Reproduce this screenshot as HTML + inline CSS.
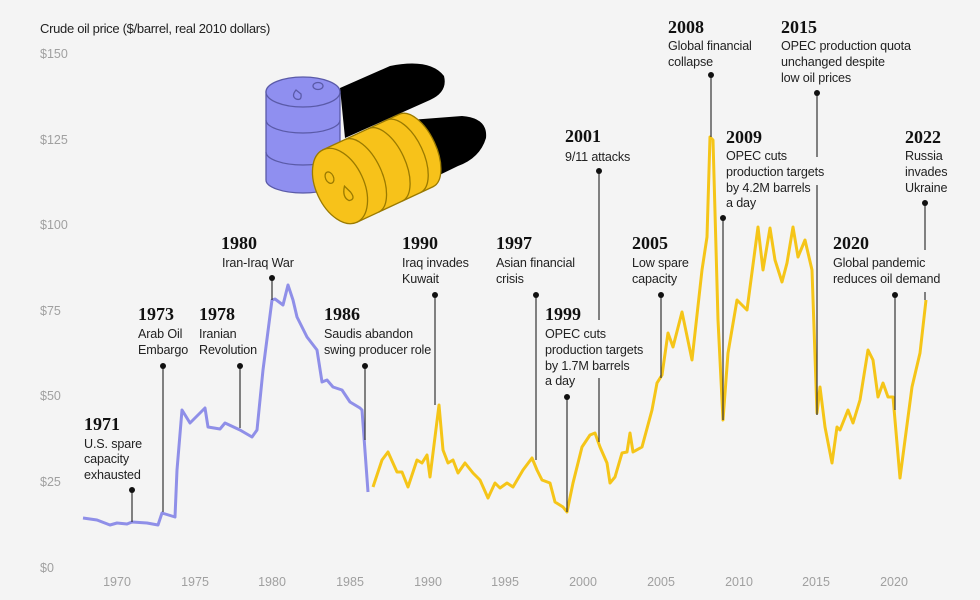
<!DOCTYPE html>
<html><head><meta charset="utf-8"><style>
html,body{margin:0;padding:0;background:#f4f4f4;}
svg{display:block;}
.yr{font-family:"Liberation Serif",serif;font-weight:bold;font-size:18px;fill:#111;}
.d{font-family:"Liberation Sans Narrow","Liberation Sans",sans-serif;font-size:12.6px;letter-spacing:-0.15px;fill:#222;}
.ax{font-family:"Liberation Sans Narrow","Liberation Sans",sans-serif;font-size:12.5px;fill:#a0a0a0;}
.ln{stroke:#333;stroke-width:1.2;fill:none;}
</style></head><body>
<svg width="980" height="600" viewBox="0 0 980 600" xmlns="http://www.w3.org/2000/svg">
<rect width="980" height="600" fill="#f4f4f4"/>
<text x="40" y="33" class="d" style="font-size:13px;letter-spacing:-0.3px">Crude oil price ($/barrel, real 2010 dollars)</text>
<g class="ax">
<text x="40" y="58">$150</text><text x="40" y="144">$125</text><text x="40" y="229">$100</text>
<text x="40" y="315">$75</text><text x="40" y="400">$50</text><text x="40" y="486">$25</text><text x="40" y="572">$0</text>
</g>
<g class="ax" text-anchor="middle">
<text x="117" y="586">1970</text><text x="195" y="586">1975</text><text x="272" y="586">1980</text>
<text x="350" y="586">1985</text><text x="428" y="586">1990</text><text x="505" y="586">1995</text>
<text x="583" y="586">2000</text><text x="661" y="586">2005</text><text x="739" y="586">2010</text>
<text x="816" y="586">2015</text><text x="894" y="586">2020</text>
</g>

<!-- barrels -->
<path d="M340,88 L390,66 Q430,58 444,76 Q448,92 430,100 L345,138 Z" fill="#000"/>
<path d="M410,120 L462,116 Q488,118 486,138 Q480,158 458,166 L425,182 Z" fill="#000"/>
<g stroke="#5a5aa8" stroke-width="1.3" fill="#8f8ff0">
<path d="M266,92 L266,180 A37,13 0 0 0 340,180 L340,92 Z"/>
<path d="M266,120 A37,13 0 0 0 340,120" fill="none"/>
<path d="M266,152 A37,13 0 0 0 340,152" fill="none"/>
<ellipse cx="303" cy="92" rx="37" ry="15"/>
<path d="M296,90 q-5,6 0,9 q6,2 5,-5 z" fill="none"/>
<ellipse cx="318" cy="86" rx="5" ry="3.5" fill="none"/>
</g>
<g transform="translate(340,186) rotate(-25)" stroke="#9a7a00" stroke-width="1.3" fill="#f7c21a">
<path d="M0,-40 L84,-40 A20,40 0 0 1 84,40 L0,40 Z"/>
<path d="M24,-40 A20,40 0 0 1 24,40" fill="none"/>
<path d="M50,-40 A20,40 0 0 1 50,40" fill="none"/>
<path d="M70,-40 A20,40 0 0 1 70,40" fill="none"/>
<ellipse cx="0" cy="0" rx="24" ry="40"/>
<ellipse cx="-6" cy="-12" rx="4" ry="6" fill="none"/>
<path d="M4,2 q-7,9 -2,15 q7,2 5,-7 z" fill="none"/>
</g>

<!-- price series -->
<polyline fill="none" stroke="#8f8fe8" stroke-width="3" stroke-linejoin="round" points="83,518 97,520 110,525 117,523 127,524 132,522 147,523 158,525 162,513 175,517 177,470 182,410 190,423 205,408 208,427 220,429 225,423 240,430 252,437 257,430 263,370 272,300 275,299 283,305 288,285 293,300 297,317 307,337 317,350 322,382 327,380 333,387 342,390 350,402 360,408 362,410 368,492"/>
<polyline fill="none" stroke="#f5c518" stroke-width="3" stroke-linejoin="round" points="373,487 382,460 388,452 397,472 402,472 408,487 417,460 422,463 427,455 430,477 435,437 439,405 443,450 448,463 453,460 458,473 465,463 473,473 480,480 488,498 495,483 500,488 507,483 513,487 523,470 532,458 537,470 542,480 550,483 555,502 563,507 567,512 573,483 582,447 590,435 595,433 600,447 607,463 610,483 615,477 622,453 627,452 630,433 633,452 642,447 652,410 657,383 662,375 668,333 673,347 682,312 692,360 702,270 707,237 710,137 713,140 718,320 723,420 728,353 737,300 747,310 758,227 763,270 770,228 775,260 782,282 787,263 793,227 798,257 805,240 812,270 817,413 820,387 825,427 832,463 837,427 840,430 848,410 853,423 860,400 868,350 873,360 878,397 883,383 888,397 893,397 900,478 905,440 912,387 920,353 926,300"/>

<!-- annotation lines -->
<g class="ln">
<path d="M132,490V522"/><path d="M163,366V512"/><path d="M240,366V428"/><path d="M272,278V300"/>
<path d="M365,366V440"/><path d="M435,295V405"/><path d="M536,295V460"/><path d="M567,397V512"/>
<path d="M599,171V320M599,378V442"/><path d="M661,295V378"/><path d="M711,75V137"/>
<path d="M723,218V420"/><path d="M817,93V157M817,185V415"/><path d="M895,295V410"/>
<path d="M925,203V250M925,292V300"/>
</g>
<g fill="#111">
<circle cx="132" cy="490" r="3"/><circle cx="163" cy="366" r="3"/><circle cx="240" cy="366" r="3"/>
<circle cx="272" cy="278" r="3"/><circle cx="365" cy="366" r="3"/><circle cx="435" cy="295" r="3"/>
<circle cx="536" cy="295" r="3"/><circle cx="567" cy="397" r="3"/><circle cx="599" cy="171" r="3"/>
<circle cx="661" cy="295" r="3"/><circle cx="711" cy="75" r="3"/><circle cx="723" cy="218" r="3"/>
<circle cx="817" cy="93" r="3"/><circle cx="895" cy="295" r="3"/><circle cx="925" cy="203" r="3"/>
</g>

<!-- annotation text -->
<text class="yr" x="84" y="430">1971</text>
<text class="d" x="84" y="448">U.S. spare</text><text class="d" x="84" y="463">capacity</text><text class="d" x="84" y="479">exhausted</text>
<text class="yr" x="138" y="320">1973</text>
<text class="d" x="138" y="338">Arab Oil</text><text class="d" x="138" y="354">Embargo</text>
<text class="yr" x="199" y="320">1978</text>
<text class="d" x="199" y="338">Iranian</text><text class="d" x="199" y="354">Revolution</text>
<text class="yr" x="221" y="249">1980</text>
<text class="d" x="222" y="267">Iran-Iraq War</text>
<text class="yr" x="324" y="320">1986</text>
<text class="d" x="324" y="338">Saudis abandon</text><text class="d" x="324" y="354">swing producer role</text>
<text class="yr" x="402" y="249">1990</text>
<text class="d" x="402" y="267">Iraq invades</text><text class="d" x="402" y="283">Kuwait</text>
<text class="yr" x="496" y="249">1997</text>
<text class="d" x="496" y="267">Asian financial</text><text class="d" x="496" y="283">crisis</text>
<text class="yr" x="545" y="320">1999</text>
<text class="d" x="545" y="338">OPEC cuts</text><text class="d" x="545" y="354">production targets</text><text class="d" x="545" y="370">by 1.7M barrels</text><text class="d" x="545" y="385">a day</text>
<text class="yr" x="565" y="142">2001</text>
<text class="d" x="565" y="161">9/11 attacks</text>
<text class="yr" x="632" y="249">2005</text>
<text class="d" x="632" y="267">Low spare</text><text class="d" x="632" y="283">capacity</text>
<text class="yr" x="668" y="33">2008</text>
<text class="d" x="668" y="50">Global financial</text><text class="d" x="668" y="66">collapse</text>
<text class="yr" x="726" y="143">2009</text>
<text class="d" x="726" y="160">OPEC cuts</text><text class="d" x="726" y="176">production targets</text><text class="d" x="726" y="192">by 4.2M barrels</text><text class="d" x="726" y="207">a day</text>
<text class="yr" x="781" y="33">2015</text>
<text class="d" x="781" y="50">OPEC production quota</text><text class="d" x="781" y="66">unchanged despite</text><text class="d" x="781" y="82">low oil prices</text>
<text class="yr" x="833" y="249">2020</text>
<text class="d" x="833" y="267">Global pandemic</text><text class="d" x="833" y="283">reduces oil demand</text>
<text class="yr" x="905" y="143">2022</text>
<text class="d" x="905" y="160">Russia</text><text class="d" x="905" y="176">invades</text><text class="d" x="905" y="192">Ukraine</text>
</svg>
</body></html>
